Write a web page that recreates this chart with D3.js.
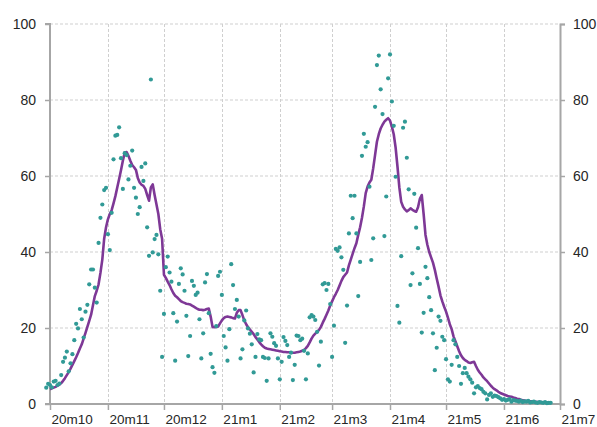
<!DOCTYPE html>
<html><head><meta charset="utf-8">
<script src="https://cdn.jsdelivr.net/npm/d3@7"></script>
<style>body{margin:0;background:#fff}svg{display:block}</style>
</head><body><svg id="c" width="597" height="427"></svg>
<script>
// daily observations, first value on 2020-09-29
const dotStart = "2020-09-29";
const dotValues = [4.3,5.3,5.0,4.4,5.9,6.1,5.0,5.4,7.6,11.1,12.2,13.8,8.6,10.7,13.1,16.8,21.1,19.9,25.0,22.3,
17.5,24.3,26.1,31.5,35.4,35.4,30.6,26.7,42.4,49.0,52.5,56.3,56.9,44.7,40.5,50.3,64.4,70.6,70.8,72.8,
64.7,56.6,66.0,65.5,59.1,62.7,66.7,56.9,54.3,50.0,51.8,62.4,58.7,63.3,46.5,39.0,85.4,39.9,43.4,44.5,
39.4,29.8,12.4,23.7,36.0,38.8,34.6,32.2,23.9,11.4,21.7,31.6,35.7,34.1,29.8,23.2,12.6,17.9,32.4,31.1,
28.7,29.3,22.3,12.0,18.6,32.0,34.2,23.9,13.2,9.7,8.2,20.5,33.7,34.8,28.7,17.9,14.9,11.4,19.7,36.8,
31.3,25.0,27.4,23.0,12.0,14.4,22.0,24.6,19.9,18.5,15.7,8.3,12.4,18.4,17.0,16.8,12.4,12.1,6.1,12.0,
18.6,17.7,16.0,15.3,12.0,6.5,11.1,17.6,16.6,15.5,12.4,13.5,6.3,10.3,18.0,17.9,16.8,17.2,14.0,6.5,
13.3,22.8,23.4,23.0,22.1,19.0,10.1,16.4,31.5,31.8,30.0,31.6,26.3,12.4,20.6,40.8,40.3,41.2,38.6,35.3,
16.1,25.9,44.9,54.8,48.9,54.8,44.9,28.4,37.4,65.3,71.1,67.7,68.9,57.2,37.9,43.6,78.2,89.2,91.7,82.8,
76.3,44.2,54.6,85.7,92.0,79.6,73.2,59.8,25.8,21.4,38.9,72.7,74.3,64.8,56.5,31.3,34.4,55.3,46.4,41.0,
31.6,18.8,24.0,36.1,33.1,28.1,24.7,18.6,8.9,14.8,23.0,21.9,17.7,16.8,11.8,6.5,5.9,10.3,16.8,15.7,
12.4,10.0,5.3,8.1,9.5,8.1,7.2,6.5,5.6,2.8,4.4,4.7,4.2,3.9,3.2,2.8,1.2,2.4,2.8,1.9,
2.2,2.1,1.8,1.5,1.1,1.3,0.9,1.1,1.3,0.6,1.0,0.9,0.8,0.6,0.9,0.5,0.7,0.6,0.8,0.4,
0.5,0.6,0.4,0.3,0.5,0.4,0.3,0.5,0.2,0.3,0.3];

// smoothed line, first value on 2020-10-01
const lineStart = "2020-10-01";
const lineValues = [3.9,4.1,4.3,4.5,4.8,5.1,5.5,6.1,6.8,7.6,
8.4,9.3,10.3,11.3,12.3,13.4,14.6,15.7,17.2,18.7,
20.3,21.9,23.5,26.0,28.4,29.8,31.5,34.5,38.0,43.5,
46.5,48.6,50.0,51.0,52.8,54.7,57.0,59.2,61.5,64.0,
66.2,66.3,65.3,64.0,62.9,62.3,61.6,59.5,58.3,57.7,
57.4,56.6,55.0,53.5,57.0,57.8,55.0,52.5,50.0,46.0,
43.5,34.0,33.2,32.2,31.3,30.2,29.2,28.5,28.1,27.6,
27.1,26.8,26.6,26.4,26.3,26.2,25.9,25.6,25.3,25.0,
24.8,24.8,24.7,24.8,25.0,25.1,23.0,20.3,20.2,20.3,
20.4,21.2,22.0,22.6,22.9,23.0,22.9,22.8,22.6,22.5,
24.0,24.7,24.7,23.4,22.0,21.0,20.2,19.6,19.0,18.4,
17.6,17.0,16.3,15.7,15.2,14.8,14.6,14.5,14.4,14.3,
14.2,14.1,14.0,13.9,13.8,13.7,13.7,13.6,13.6,13.5,
13.5,13.5,13.6,13.7,13.8,14.0,14.2,14.7,15.3,16.2,
17.2,18.0,18.5,19.0,19.5,20.3,21.4,22.4,23.5,24.6,
25.9,27.0,28.1,29.0,30.0,31.2,32.4,33.4,34.0,34.6,
36.5,38.0,39.5,41.0,42.3,44.5,46.5,49.0,52.0,55.5,
57.2,58.3,59.0,62.0,65.5,69.0,71.0,72.5,73.5,74.3,
74.8,75.2,74.6,73.0,71.0,67.5,62.5,57.0,53.2,51.9,
51.2,50.7,51.0,51.5,51.1,50.8,50.6,51.8,54.0,55.0,
50.0,44.5,41.9,40.0,38.6,37.2,35.3,33.0,30.9,28.6,
27.0,25.6,24.3,22.7,21.0,19.7,17.8,16.5,15.2,13.9,
12.8,12.1,11.6,11.3,10.9,10.8,11.0,11.1,10.0,9.0,
8.3,7.7,7.0,6.5,6.0,5.4,4.8,4.3,3.9,3.6,
3.2,2.9,2.7,2.5,2.3,2.1,2.0,1.9,1.7,1.6,
1.4,1.3,1.1,1.0,0.9,0.8,0.8,0.7,0.7,0.6,
0.6,0.5,0.5,0.5,0.4,0.4,0.4,0.4,0.3];

const monthTicks = ["2020-10-01","2020-11-01","2020-12-01","2021-01-01","2021-02-01","2021-03-01","2021-04-01","2021-05-01","2021-06-01","2021-07-01"];
const monthLabels = ["20m10","20m11","20m12","21m1","21m2","21m3","21m4","21m5","21m6","21m7"];
const yTicks = [0,20,40,60,80,100];

const parse = d3.utcParse("%Y-%m-%d");
const svg = d3.select("#c");
const L = 50, R = 560, T = 24, B = 404;
const x = d3.scaleUtc().domain([parse(monthTicks[0]), parse(monthTicks[monthTicks.length-1])]).range([L, R]);
const y = d3.scaleLinear().domain([0, 100]).range([B, T]);
const font = "'Liberation Sans', Arial, sans-serif";
const axisCol = "#a6a6a6";

// grid
const g = svg.append("g");
g.selectAll("line.h").data(yTicks.filter(v => v > 0)).join("line")
  .attr("x1", L).attr("x2", R).attr("y1", d => y(d)).attr("y2", d => y(d))
  .attr("stroke", "#cfcfcf").attr("stroke-width", 1).attr("stroke-dasharray", "3,2");
g.selectAll("line.v").data(monthTicks.slice(1, -1)).join("line")
  .attr("x1", d => Math.round(x(parse(d))) + 0.5).attr("x2", d => Math.round(x(parse(d))) + 0.5)
  .attr("y1", T).attr("y2", B)
  .attr("stroke", "#cfcfcf").attr("stroke-width", 1).attr("stroke-dasharray", "3,2");

// axes
const yl = d3.axisLeft(y).tickValues(yTicks).tickSize(5).tickPadding(9);
const yr = d3.axisRight(y).tickValues(yTicks).tickSize(5).tickPadding(8);
const xa = d3.axisBottom(x).tickValues(monthTicks.map(parse)).tickSize(6).tickFormat((d, i) => monthLabels[i]);
function style(sel, fs) {
  sel.select(".domain").attr("stroke", axisCol).attr("stroke-width", 2);
  sel.selectAll(".tick line").attr("stroke", axisCol).attr("stroke-width", 1.5);
  sel.selectAll("text").attr("fill", "#262626").style("font-family", font).style("font-size", fs);
}
const gl = svg.append("g").attr("transform", `translate(${L},0)`).call(yl);
gl.select(".domain").attr("d", `M-5,${B}H0V${T}H-5`);
style(gl, "14px");
const gr = svg.append("g").attr("transform", `translate(${R},0)`).call(yr);
style(gr, "14px");
const gx = svg.append("g").attr("transform", `translate(0,${B})`).call(xa);
style(gx, "13.5px");
gx.select(".domain").attr("d", `M${L},0H${R}`);
gx.selectAll(".tick text").attr("text-anchor", "start").attr("x", 1).attr("y", 20).attr("dy", "0");

// line
const l0 = parse(lineStart);
const line = d3.line().x((d, i) => x(d3.utcDay.offset(l0, i))).y(d => y(d)).curve(d3.curveLinear);
svg.append("path").datum(lineValues).attr("d", line)
  .attr("fill", "none").attr("stroke", "#7e3896").attr("stroke-width", 2.6).attr("stroke-linejoin", "round");

// dots
const d0 = parse(dotStart);
svg.append("g").selectAll("circle").data(dotValues).join("circle")
  .attr("cx", (d, i) => x(d3.utcDay.offset(d0, i))).attr("cy", d => y(d)).attr("r", 2.1)
  .attr("fill", "#319a96");
</script></body></html>
